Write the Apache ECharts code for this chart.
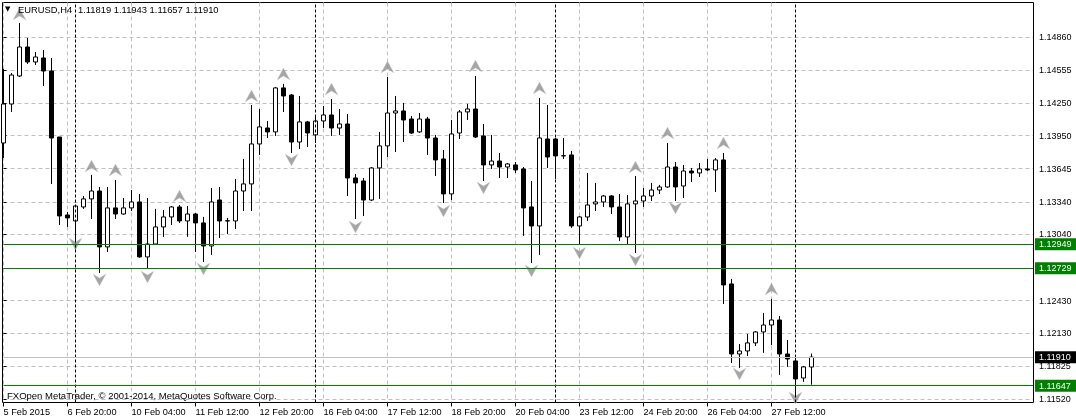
<!DOCTYPE html>
<html>
<head>
<meta charset="utf-8">
<style>html,body{margin:0;padding:0;background:#fff}#c{width:1076px;height:420px}</style>
<script src="https://cdn.jsdelivr.net/npm/echarts@6/dist/echarts.min.js"></script>
</head>
<body>
<div id="c"></div>
<script>
const timeTickBars = [0,8,16,24,32,40,48,56,64,72,80,88,96];
const timeTickLabels = ["5 Feb 2015","6 Feb 20:00","10 Feb 04:00","11 Feb 12:00","12 Feb 20:00","16 Feb 04:00","17 Feb 12:00","18 Feb 20:00","20 Feb 04:00","23 Feb 12:00","24 Feb 20:00","26 Feb 04:00","27 Feb 12:00"];
const priceTicks = [1.14860,1.14555,1.14250,1.13950,1.13645,1.13340,1.13040,1.12730,1.12430,1.12130,1.11825,1.11520];
const priceTickLabels = ["1.14860","1.14555","1.14250","1.13950","1.13645","1.13340","1.13040","","1.12430","1.12130","1.11825","1.11520"];
const separatorBars = [9,39,69,99];
const levelPrices = [1.12949,1.12729,1.11647];
const lastPrice = 1.11910;

const opens = [1.13882,1.14241,1.14499,1.14766,1.14628,1.14665,1.14545,1.13937,1.13219,1.13164,
1.13293,1.13367,1.13440,1.12925,1.13284,1.13228,1.13284,1.13339,1.12833,1.12952,
1.13109,1.13201,1.13293,1.13164,1.13228,1.13146,1.12934,1.13357,1.13164,1.13164,
1.13440,1.13505,1.13873,1.14020,1.13984,1.14389,1.14324,1.13891,1.14076,1.13956,
1.14085,1.14140,1.14020,1.14057,1.13560,1.13532,1.13357,1.13652,1.13855,1.14158,
1.14177,1.14103,1.13984,1.14103,1.13928,1.13735,1.13413,1.13974,1.14168,1.14195,
1.13947,1.13680,1.13716,1.13661,1.13680,1.13643,1.13293,1.13118,1.13919,1.13919,
1.13763,1.13772,1.13118,1.13201,1.13321,1.13339,1.13394,1.13293,1.13017,1.13321,
1.13348,1.13394,1.13449,1.13477,1.13661,1.13486,1.13624,1.13606,1.13643,1.13634,
1.13726,1.12584,1.11939,1.11967,1.12041,1.12142,1.12206,1.12252,1.11939,1.11875,
1.11718,1.11819];
const closes = [1.14241,1.14508,1.14766,1.14628,1.14674,1.14545,1.13928,1.13210,1.13192,1.13302,
1.13367,1.13440,1.12925,1.13284,1.13228,1.13284,1.13339,1.12833,1.12952,1.13109,
1.13201,1.13293,1.13164,1.13228,1.13146,1.12934,1.13339,1.13164,1.13166,1.13440,
1.13505,1.13873,1.14030,1.13984,1.14389,1.14315,1.13891,1.14076,1.13974,1.14085,
1.14140,1.14020,1.14057,1.13560,1.13514,1.13357,1.13652,1.13855,1.14158,1.14177,
1.14094,1.13974,1.14103,1.13928,1.13726,1.13413,1.13965,1.14168,1.14195,1.13937,
1.13680,1.13716,1.13661,1.13689,1.13634,1.13284,1.13118,1.13928,1.13753,1.13763,
1.13765,1.13118,1.13201,1.13311,1.13339,1.13394,1.13293,1.13017,1.13321,1.13348,
1.13394,1.13449,1.13477,1.13661,1.13477,1.13624,1.13606,1.13643,1.13634,1.13726,
1.12575,1.11939,1.11967,1.12041,1.12142,1.12206,1.12252,1.11939,1.11893,1.11709,
1.11820,1.11910];
const lows = [1.13744,1.14168,1.14490,1.14610,1.14600,1.14407,1.13505,1.13127,1.13109,1.12897,
1.13275,1.13182,1.12685,1.12879,1.13182,1.13222,1.13256,1.12825,1.12731,1.12945,
1.13017,1.13127,1.13146,1.13017,1.12879,1.12786,1.12851,1.13007,1.13044,1.13090,
1.13256,1.13256,1.13772,1.13928,1.13947,1.14168,1.13790,1.13827,1.13845,1.13882,
1.14020,1.13947,1.13956,1.13394,1.13182,1.13210,1.13348,1.13367,1.13753,1.13799,
1.13891,1.13965,1.13975,1.13772,1.13578,1.13330,1.13357,1.13919,1.14094,1.13928,
1.13532,1.13643,1.13560,1.13560,1.13606,1.13026,1.12777,1.12851,1.13652,1.13551,
1.13735,1.13100,1.12952,1.13164,1.13256,1.13293,1.13228,1.12980,1.12952,1.12869,
1.13293,1.13348,1.13413,1.13470,1.13348,1.13376,1.13523,1.13569,1.13624,1.13431,
1.12400,1.11856,1.11810,1.11921,1.12013,1.11949,1.12022,1.11746,1.11820,1.11562,
1.11682,1.11657];
const highs = [1.14564,1.14527,1.14987,1.14849,1.14720,1.14739,1.14665,1.13937,1.13247,1.13310,
1.13394,1.13588,1.13477,1.13477,1.13542,1.13376,1.13449,1.13413,1.13376,1.13275,
1.13265,1.13302,1.13311,1.13302,1.13238,1.13201,1.13468,1.13477,1.13192,1.13551,
1.13735,1.14232,1.14195,1.14085,1.14398,1.14426,1.14333,1.14315,1.14085,1.14122,
1.14223,1.14287,1.14195,1.14149,1.13597,1.13560,1.13661,1.13984,1.14490,1.14315,
1.14251,1.14131,1.14158,1.14122,1.13956,1.13818,1.14094,1.14186,1.14241,1.14499,
1.14057,1.13956,1.13790,1.13698,1.13707,1.13661,1.13532,1.14297,1.14232,1.13928,
1.13928,1.13809,1.13210,1.13606,1.13514,1.13403,1.13403,1.13413,1.13403,1.13578,
1.13468,1.13514,1.13496,1.13882,1.13707,1.13680,1.13652,1.13698,1.13735,1.13744,
1.13790,1.12630,1.12031,1.12124,1.12151,1.12317,1.12446,1.12289,1.12068,1.11912,
1.11829,1.11943];

const upFractalBars = [2,11,14,22,31,35,41,48,59,67,79,83,90,96];
const upFractalPrices = [1.15070,1.13670,1.13634,1.13394,1.14315,1.14518,1.14379,1.14582,1.14591,1.14389,1.13661,1.13974,1.13882,1.12538];
const downFractalBars = [9,12,18,25,36,44,55,60,66,72,79,84,92,99];
const downFractalPrices = [1.12952,1.12621,1.12648,1.12722,1.13726,1.13109,1.13256,1.13468,1.12704,1.12869,1.12805,1.13284,1.11755,1.11534];

const FONT = '"Liberation Sans"';
const PRICE_STEP = 0.0030386921;
const PRICE_MIN = 1.1152;
const PRICE_MAX = 1.1517564;
const BAR_MAX = 128.6875;
const gridLine = {show:true, lineStyle:{color:'#c0c0c0', type:[4,3], width:1}};

const chart = echarts.init(document.getElementById('c'), null, {renderer:'canvas'});
const tagMap = {};
tagMap[String(lastPrice)] = 'k';
levelPrices.forEach(p => tagMap[String(p)] = 'g');

chart.setOption({
  animation:false,
  backgroundColor:'#fff',
  textStyle:{fontFamily:FONT},
  title:[
    {text:'▼', left:5, top:6, padding:0, textStyle:{fontSize:7, fontWeight:'normal', color:'#000', fontFamily:'"DejaVu Sans"'}},
    {text:'EURUSD,H4', left:18, top:6, padding:0, textStyle:{fontSize:9.4, fontWeight:'normal', color:'#000', fontFamily:FONT}},
    {text:'1.11819 1.11943 1.11657 1.11910', left:78, top:6, padding:0, textStyle:{fontSize:9.4, fontWeight:'normal', color:'#000', fontFamily:FONT}},
    {text:'FXOpen MetaTrader, © 2001-2014, MetaQuotes Software Corp.', left:7, top:391, padding:0, textStyle:{fontSize:9.5, fontWeight:'normal', color:'#000', fontFamily:FONT}}
  ],
  grid:[
    {show:true, left:2.5, top:2.5, width:1031, height:400, borderColor:'#000', borderWidth:1, backgroundColor:'#fff', z:0, outerBoundsMode:'none'},
    {show:false, left:3.5, top:2.5, width:1029.5, height:400, outerBoundsMode:'none'},
    {show:false, left:3.5, top:2.5, width:1029.5, height:397, outerBoundsMode:'none'}
  ],
  xAxis:[
    {type:'value', gridIndex:1, min:0, max:BAR_MAX, interval:4, position:'bottom',
      axisLine:{show:false},
      axisTick:{show:true, length:4, lineStyle:{color:'#000'}, customValues:timeTickBars},
      axisLabel:{show:true, customValues:timeTickBars, align:'left', margin:5, fontSize:9.2, color:'#000', fontFamily:FONT,
        formatter:v => timeTickLabels[timeTickBars.indexOf(v)] || ''},
      splitLine:gridLine},
    {type:'value', gridIndex:2, min:0, max:BAR_MAX, interval:4, show:false, splitLine:{show:false}}
  ],
  yAxis:[
    {type:'value', gridIndex:1, min:0, max:1, show:false, splitLine:{show:false}},
    {type:'value', gridIndex:2, min:PRICE_MIN, max:PRICE_MAX, interval:PRICE_STEP, position:'right', scale:true,
      axisLine:{show:false},
      axisTick:{show:true, length:3, lineStyle:{color:'#000'}, customValues:priceTicks},
      splitLine:gridLine,
      axisLabel:{show:true, margin:2, fontSize:9, color:'#000', fontFamily:FONT,
        customValues:priceTicks.filter((p,i)=>priceTickLabels[i]!=='').concat([lastPrice]).concat(levelPrices),
        formatter:v => {
          const t = tagMap[String(v)];
          const s = v.toFixed(5);
          return '{'+(t||'p')+'|'+s+'}';
        },
        rich:{
          p:{color:'#000', padding:[2,10,1,4], fontSize:9, fontFamily:FONT},
          g:{backgroundColor:'#008000', color:'#fff', padding:[2,10,1,4], fontSize:9, fontFamily:FONT},
          k:{backgroundColor:'#000', color:'#fff', padding:[2,10,1,4], fontSize:9, fontFamily:FONT}
        }}
    }
  ],
  series:[
    {type:'line', xAxisIndex:0, yAxisIndex:0, data:[], symbol:'none', z:1, silent:true,
      markLine:{silent:true, symbol:'none', animation:false, label:{show:false}, precision:5,
        lineStyle:{color:'#000', type:[3,2], width:1},
        data:separatorBars.map(b=>({xAxis:b}))}},
    {type:'line', xAxisIndex:1, yAxisIndex:1, data:[], symbol:'none', z:1, silent:true,
      markLine:{silent:true, symbol:'none', animation:false, label:{show:false}, precision:5,
        lineStyle:{color:'#008000', type:'solid', width:1},
        data:levelPrices.map(p=>({yAxis:p})).concat([{yAxis:lastPrice, lineStyle:{color:'#c0c0c0', type:'solid', width:1}}])}},
    {type:'candlestick', xAxisIndex:1, yAxisIndex:1, z:3, barWidth:5, silent:true,
      dimensions:['bar','open','close','lowest','highest'],
      encode:{x:0, y:[1,2,3,4]},
      itemStyle:{color:'#fff', color0:'#000', borderColor:'#000', borderColor0:'#000', borderWidth:1},
      data:opens.map((o,i)=>[i,o,closes[i],lows[i],highs[i]])},
    {type:'scatter', xAxisIndex:1, yAxisIndex:1, z:4, silent:true, clip:false,
      symbol:'path://M6,0 L12,12 L6,8 L0,12 Z', symbolSize:[13,12],
      itemStyle:{color:'#8f8f8f', borderColor:'#d0d4dc', borderWidth:0.5},
      data:upFractalBars.map((b,i)=>[b,upFractalPrices[i]])},
    {type:'scatter', xAxisIndex:1, yAxisIndex:1, z:4, silent:true, clip:false,
      symbol:'path://M0,0 L6,4 L12,0 L6,12 Z', symbolSize:[13,12],
      itemStyle:{color:'#8f8f8f', borderColor:'#d0d4dc', borderWidth:0.5},
      data:downFractalBars.map((b,i)=>[b,downFractalPrices[i]])}
  ]
});
</script>
</body>
</html>
